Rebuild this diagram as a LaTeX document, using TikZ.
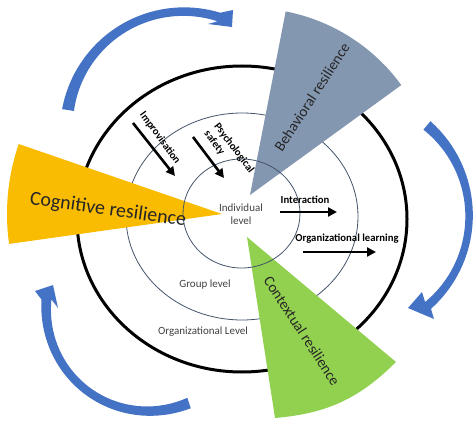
\documentclass[tikz,border=0pt]{standalone}
\usepackage{fontspec}
\setmainfont{Carlito}
\usetikzlibrary{arrows.meta}
\definecolor{cogy}{RGB}{250,188,0}
\definecolor{behg}{RGB}{132,151,176}
\definecolor{cong}{RGB}{146,208,80}
\definecolor{bluar}{RGB}{68,114,196}
\definecolor{navyc}{RGB}{68,84,106}
\definecolor{txtg}{RGB}{64,64,64}
\tikzset{
  thinring/.style={draw=navyc, line width=0.8pt},
  thickring/.style={draw=black, line width=3pt},
  bluearrow/.style={fill=bluar, draw=none},
  blackarrow/.style={draw=black, line width=2.6pt, -{Triangle[length=9pt,width=9pt]}},
  boldlabel/.style={font=\fontsize{10.7}{12.5}\selectfont\bfseries, text=black, inner sep=0pt},
  levellabel/.style={font=\fontsize{11}{13}\selectfont, text=txtg, inner sep=0pt},
  biglabel/.style={font=\fontsize{15}{18}\selectfont, text=black!85, inner sep=0pt},
}
\begin{document}
\begin{tikzpicture}[x=1pt,y=1pt]
\useasboundingbox (0,0) rectangle (474,424);
% rings (outer and middle behind the wedges)
\draw[thickring] (242,205) ellipse [x radius=165, y radius=153];
\draw[thinring] (242,207.5) ellipse [x radius=116, y radius=103.5];
% wedges
\coordinate (cogapex) at (222,210);
\fill[cogy] (cogapex) -- ++(161:215) arc[start angle=161, end angle=188, radius=215] -- cycle;
\coordinate (behapex) at (250,229);
\fill[behg] (behapex) -- ++(36:187) arc[start angle=36, end angle=79, radius=187] -- cycle;
\coordinate (conapex) at (247,187);
\coordinate (conA) at (275,6);
\coordinate (conB) at (396,62);
\fill[cong] (conapex) -- (conA) to[bend right=20] (conB) -- cycle;
% inner ring above the wedges
\draw[thinring] (241.5,210.5) ellipse [x radius=58.5, y radius=54.5];
% black arrows
\coordinate (impS) at (133,301); \coordinate (impE) at (175,248);
\coordinate (psyS) at (193,287); \coordinate (psyE) at (224,246);
\coordinate (intS) at (280,212); \coordinate (intE) at (337,212);
\coordinate (orgS) at (303,172); \coordinate (orgE) at (376,172);
\draw[blackarrow] (impS) -- (impE);
\draw[blackarrow] (psyS) -- (psyE);
\draw[blackarrow] (intS) -- (intE);
\draw[blackarrow] (orgS) -- (orgE);
% labels
\node[boldlabel, rotate=-54] (improv) at (160,286) {Improvisation};
\node[boldlabel, rotate=-53, align=left] (psych) at (229,272) {Psychological\\safety};
\node[boldlabel] (interact) at (305,224) {Interaction};
\node[boldlabel] (orglearn) at (347,185) {Organizational learning};
\node[levellabel, align=center] (indiv) at (241,210) {Individual\\level};
\node[levellabel] (group) at (205,139) {Group level};
\node[levellabel] (orglev) at (203,92) {Organizational Level};
\node[biglabel, font=\fontsize{20}{24}\selectfont, rotate=-8] (cog) at (108,214) {Cognitive resilience};
\node[biglabel, rotate=57] (beh) at (312,327) {Behavioral resilience};
\node[biglabel, rotate=-57] (con) at (302,93) {Contextual resilience};
% blue curved arrows (tapered arcs with heads)
\fill[bluearrow]
  plot[domain=0:1, samples=40, variable=\s]
    ({183.7+(117.2+(12-10*\s+7*\s*\s)/2)*cos(170.8-98.3*\s)},
     {295.2+(117.2+(12-10*\s+7*\s*\s)/2)*sin(170.8-98.3*\s)})
  -- (233,414) -- (232,397) -- (208,400)
  -- plot[domain=1:0, samples=40, variable=\s]
    ({183.7+(117.2-(12-10*\s+7*\s*\s)/2)*cos(170.8-98.3*\s)},
     {295.2+(117.2-(12-10*\s+7*\s*\s)/2)*sin(170.8-98.3*\s)})
  -- cycle;
\fill[bluearrow]
  plot[domain=0:1, samples=40, variable=\s]
    ({351+(118.1+(11-12*\s+10*\s*\s)/2)*cos(50-99.3*\s)},
     {208.1+(118.1+(11-12*\s+10*\s*\s)/2)*sin(50-99.3*\s)})
  -- (434,105) -- (408,116) -- (422,132)
  -- plot[domain=1:0, samples=40, variable=\s]
    ({351+(118.1-(11-12*\s+10*\s*\s)/2)*cos(50-99.3*\s)},
     {208.1+(118.1-(11-12*\s+10*\s*\s)/2)*sin(50-99.3*\s)})
  -- cycle;
\fill[bluearrow]
  plot[domain=0:1, samples=40, variable=\s]
    ({155.25+(108.8+5*sin(180*\s)+(11-10*\s+9*\s*\s)/2)*cos(-71.9-108.2*\s)},
     {124.4+(108.8+5*sin(180*\s)+(11-10*\s+9*\s*\s)/2)*sin(-71.9-108.2*\s)})
  -- (35,133) -- (53,139) -- (58,116)
  -- plot[domain=1:0, samples=40, variable=\s]
    ({155.25+(108.8+5*sin(180*\s)-(11-10*\s+9*\s*\s)/2)*cos(-71.9-108.2*\s)},
     {124.4+(108.8+5*sin(180*\s)-(11-10*\s+9*\s*\s)/2)*sin(-71.9-108.2*\s)})
  -- cycle;
\end{tikzpicture}
\end{document}
